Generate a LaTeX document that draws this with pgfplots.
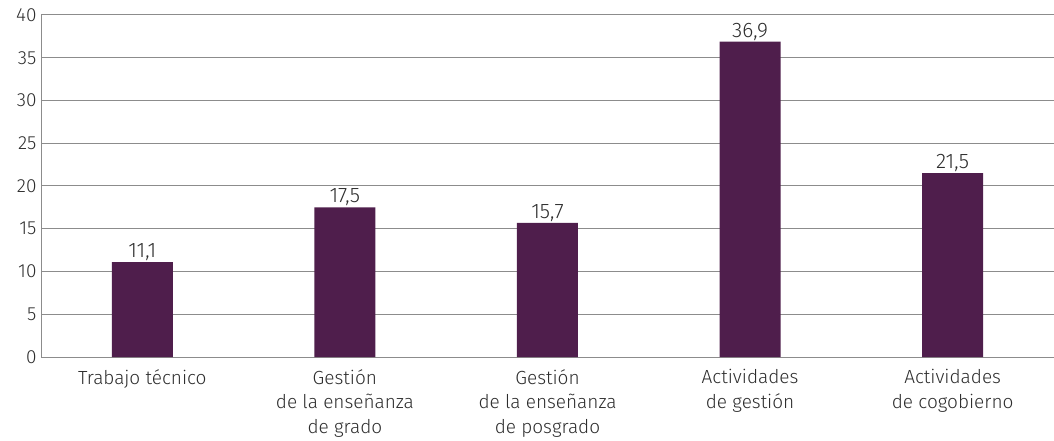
\documentclass[border=0pt]{standalone}
\usepackage{fontspec}
\setmainfont{Fira Sans}[UprightFont=* Light]
\usepackage{pgfplots}
\pgfplotsset{compat=1.18}
\definecolor{barc}{RGB}{79,30,76}
\definecolor{txt}{RGB}{45,45,45}
\definecolor{gridc}{RGB}{140,140,140}
\begin{document}
\begin{tikzpicture}
\begin{axis}[
  at={(0pt,0pt)}, anchor=south west,
  scale only axis,
  width=1013pt, height=342pt,
  xmin=-0.5, xmax=4.5,
  ymin=0, ymax=40,
  ytick={0,5,...,40},
  xtick={0,1,2,3,4},
  xticklabels={Trabajo técnico,{Gestión\\de la enseñanza\\de grado},{Gestión\\de la enseñanza\\de posgrado},{Actividades\\de gestión},{Actividades\\de cogobierno}},
  xticklabel style={align=center, anchor=north, yshift=-9pt},
  yticklabel style={anchor=east, xshift=-1pt},
  tick label style={font={\fontsize{19}{24.5}\selectfont}, text=txt},
  /pgf/number format/assume math mode=true,
  major tick length=0pt,
  axis x line*=bottom,
  axis y line*=left,
  axis line style={gridc, line width=1pt},
  ymajorgrids,
  grid style={gridc, line width=1pt},
  enlarge x limits=false,
  ybar,
  bar width=61pt,
  nodes near coords,
  every node near coord/.append style={text=txt, font={\fontsize{21}{24}\selectfont}, anchor=base, yshift=4.5pt, inner sep=0pt},
  nodes near coords style={/pgf/number format/.cd, fixed, fixed zerofill, precision=1, use comma, assume math mode=true},
  clip=false,
]
\addplot[fill=barc, draw=none] coordinates {(0,11.1) (1,17.5) (2,15.7) (3,36.9) (4,21.5)};
\end{axis}
\pgfresetboundingbox
\useasboundingbox (-41pt,-84pt) rectangle (1013pt,357pt);
\end{tikzpicture}
\end{document}
